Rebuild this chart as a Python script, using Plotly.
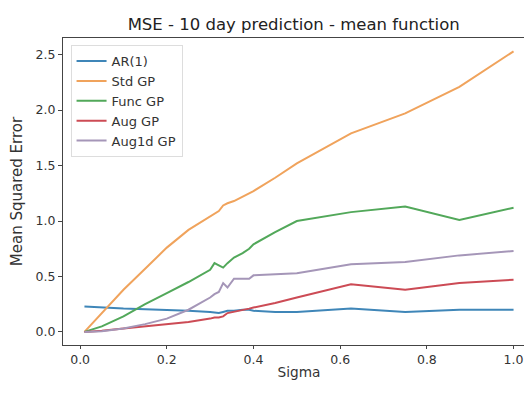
import plotly.graph_objs as go

sigma = [0.01, 0.05, 0.1, 0.15, 0.2, 0.25, 0.3, 0.31, 0.32, 0.33, 0.34, 0.355,
         0.375, 0.39, 0.4, 0.45, 0.5, 0.625, 0.75, 0.875, 1.0]

ar1 = [0.23, 0.22, 0.21, 0.205, 0.20, 0.19, 0.18, 0.175, 0.17, 0.18, 0.19, 0.19,
       0.20, 0.20, 0.19, 0.18, 0.18, 0.21, 0.18, 0.20, 0.20]
std_gp = [0.0, 0.17, 0.38, 0.57, 0.76, 0.92, 1.04, 1.07, 1.09, 1.14, 1.16, 1.18,
          1.22, 1.25, 1.27, 1.39, 1.52, 1.79, 1.97, 2.21, 2.53]
func_gp = [0.0, 0.05, 0.14, 0.25, 0.35, 0.45, 0.56, 0.62, 0.60, 0.58, 0.62, 0.67,
           0.71, 0.75, 0.79, 0.90, 1.0, 1.08, 1.13, 1.01, 1.12]
aug_gp = [0.0, 0.01, 0.03, 0.05, 0.07, 0.09, 0.12, 0.13, 0.13, 0.14, 0.17, 0.18,
          0.20, 0.21, 0.22, 0.26, 0.31, 0.43, 0.38, 0.44, 0.47]
aug1d_gp = [0.0, 0.005, 0.03, 0.07, 0.12, 0.20, 0.31, 0.34, 0.36, 0.44, 0.40, 0.48,
            0.48, 0.48, 0.51, 0.52, 0.53, 0.61, 0.63, 0.69, 0.73]

names = ["AR(1)", "Std GP", "Func GP", "Aug GP", "Aug1d GP"]
series = [ar1, std_gp, func_gp, aug_gp, aug1d_gp]
colors = ["#3f86b8", "#f0a35c", "#52a85a", "#cc4b55", "#a596b8"]

data = []
for name, vals, col in zip(names, series, colors):
    data.append(go.Scatter(x=sigma, y=vals, mode="lines", name=name,
                           line=dict(color=col, width=2)))

layout = go.Layout(
    width=532,
    height=394,
    margin=dict(l=55, r=5, t=30, b=57),
    paper_bgcolor="white",
    plot_bgcolor="white",
    font=dict(family="DejaVu Sans", size=12.5, color="#333333"),
    title=dict(text="MSE - 10 day prediction - mean function", x=0.537, xanchor="center",
               y=0.958, yanchor="middle", font=dict(size=16.5, color="#222222")),
    legend=dict(x=0.016, y=0.977, xanchor="left", yanchor="top",
                bgcolor="rgba(255,255,255,0.8)", bordercolor="#dddddd", borderwidth=1,
                font=dict(size=13, color="#333333")),
)
fig = go.Figure(data=data, layout=layout)
fig.update_xaxes(range=[-0.0395, 1.0495], tickvals=[0, 0.2, 0.4, 0.6, 0.8, 1.0],
                 tickformat=".1f", showline=True, linewidth=1, linecolor="#444444",
                 mirror=True, ticks="outside", ticklen=3, tickcolor="#444444",
                 showgrid=False, zeroline=False,
                 title=dict(text="Sigma", standoff=1, font=dict(size=13.7)))
fig.update_yaxes(range=[-0.118, 2.65], tickvals=[0, 0.5, 1.0, 1.5, 2.0, 2.5],
                 tickformat=".1f", showline=True, linewidth=1, linecolor="#444444",
                 mirror=True, ticks="outside", ticklen=4, tickcolor="#444444",
                 showgrid=False, zeroline=False,
                 title=dict(text="Mean Squared Error", standoff=12, font=dict(size=15)))

fig.write_html("out.html")
